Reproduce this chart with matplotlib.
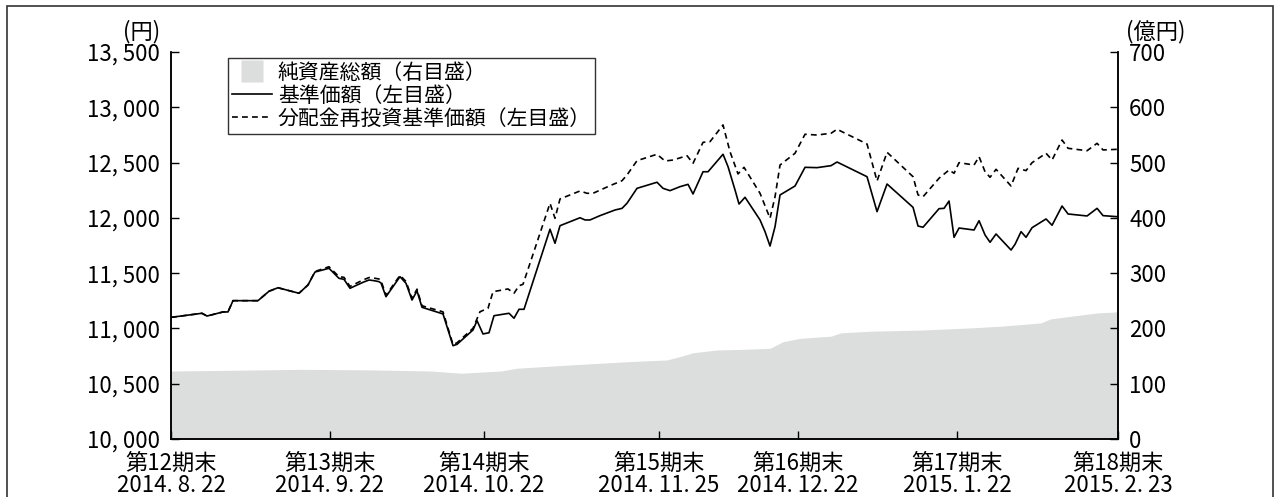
import matplotlib.pyplot as plt
from matplotlib.patches import Rectangle
from matplotlib.lines import Line2D

plt.rcParams['font.family'] = ['Liberation Sans Narrow', 'Noto Sans CJK JP', 'DejaVu Sans']

# position along the period axis (0 = 2014.8.22, 947 = 2015.2.23)
nav_x = [0, 31, 36, 52, 57, 62, 87, 98, 107, 128, 137, 144, 158, 168, 173, 179,
         192, 198, 203, 208, 210, 215, 229, 235, 241, 246, 251, 272, 282, 286,
         302, 306, 312, 318, 323, 338, 343, 348, 353, 379, 384, 389, 409, 414,
         419, 429, 444, 451, 456, 466, 486, 492, 499, 509, 517, 522, 532, 537,
         552, 557, 564, 568, 574, 589, 594, 599, 604, 609, 624, 634, 646, 660,
         666, 696, 706, 716, 742, 747, 752, 768, 773, 778, 783, 788, 803, 808,
         814, 819, 825, 840, 844, 850, 855, 861, 875, 881, 891, 897, 916, 926,
         932, 947]
nav = [11100, 11137, 11112, 11149, 11149, 11251, 11251, 11336, 11368, 11318,
       11393, 11510, 11544, 11453, 11444, 11363, 11417, 11438, 11432, 11423,
       11411, 11287, 11468, 11408, 11257, 11339, 11191, 11131, 10844, 10856,
       10986, 11070, 10950, 10961, 11115, 11137, 11092, 11173, 11173, 11897,
       11770, 11929, 12001, 11981, 11981, 12020, 12071, 12086, 12132, 12267,
       12322, 12267, 12246, 12282, 12303, 12216, 12417, 12417, 12575, 12463,
       12252, 12125, 12186, 11981, 11875, 11745, 11920, 12207, 12288, 12457,
       12454, 12472, 12505, 12372, 12056, 12306, 12095, 11926, 11915, 12083,
       12086, 12152, 11824, 11908, 11890, 11974, 11845, 11779, 11854, 11709,
       11761, 11875, 11824, 11911, 11990, 11933, 12107, 12035, 12017, 12086,
       12020, 12010]

reinv_x = [0, 31, 36, 52, 57, 62, 87, 98, 107, 128, 137, 144, 158, 168, 173,
           179, 192, 198, 203, 208, 210, 215, 229, 235, 241, 246, 251, 272, 282,
           286, 302, 309, 317, 322, 337, 343, 348, 352, 379, 384, 389, 409, 416,
           422, 439, 451, 456, 466, 486, 494, 502, 516, 522, 532, 539, 552, 559,
           567, 573, 589, 599, 604, 609, 624, 634, 646, 660, 666, 696, 706, 716,
           742, 747, 752, 768, 778, 783, 788, 803, 808, 814, 819, 825, 840, 847,
           855, 861, 875, 881, 891, 897, 916, 926, 932, 947]
reinv = [11100, 11137, 11112, 11149, 11149, 11251, 11251, 11336, 11368, 11318,
         11393, 11515, 11558, 11468, 11462, 11380, 11438, 11460, 11455, 11447,
         11432, 11300, 11480, 11425, 11272, 11355, 11205, 11150, 10855, 10870,
         11001, 11151, 11182, 11332, 11357, 11318, 11386, 11399, 12132, 11996,
         12171, 12243, 12222, 12222, 12291, 12336, 12388, 12517, 12575, 12514,
         12523, 12562, 12493, 12683, 12689, 12840, 12598, 12397, 12457, 12222,
         11996, 12191, 12478, 12584, 12756, 12749, 12765, 12801, 12668, 12333,
         12593, 12372, 12207, 12191, 12358, 12433, 12403, 12499, 12478, 12553,
         12417, 12367, 12439, 12288, 12448, 12427, 12499, 12584, 12523, 12704,
         12629, 12607, 12674, 12614, 12620]

# 純資産総額（億円）
assets_x = [0, 50, 130, 200, 260, 290, 330, 346, 400, 459, 496, 509, 522, 546,
            569, 599, 612, 629, 660, 670, 700, 750, 800, 830, 870, 879, 887,
            926, 947]
assets = [123, 124, 126, 125, 123, 119, 123, 128, 134, 140, 143, 149, 156, 161,
          162, 164, 176, 182, 186, 192, 195, 197, 201, 204, 210, 217, 219,
          228, 230]

period_pos = [0, 159, 313, 488, 627, 786, 947]
period_labels = ['第12期末\n2014. 8. 22', '第13期末\n2014. 9. 22',
                 '第14期末\n2014. 10. 22', '第15期末\n2014. 11. 25',
                 '第16期末\n2014. 12. 22', '第17期末\n2015. 1. 22',
                 '第18期末\n2015. 2. 23']
left_ticks = [10000, 10500, 11000, 11500, 12000, 12500, 13000, 13500]
left_labels = ['10, 000', '10, 500', '11, 000', '11, 500', '12, 000',
               '12, 500', '13, 000', '13, 500']
right_ticks = [0, 100, 200, 300, 400, 500, 600, 700]

fig = plt.figure(figsize=(12.74, 4.97), dpi=100)
ax = fig.add_axes([0.1342, 0.1167, 0.7434, 0.7787])
ax2 = ax.twinx()

fill_color = '#dcdddd'
ax2.fill_between(assets_x, 0, assets, color=fill_color, lw=0)
ax2.set_ylim(0, 700)
ax2.set_yticks(right_ticks)

dash = (0, (3.5, 2.5))
ax.plot(nav_x, nav, color='black', lw=1.2)
ax.plot(reinv_x, reinv, color='black', lw=1.2, ls=dash)
ax.set_ylim(10000, 13500)
ax.set_xlim(0, 947)
ax.set_yticks(left_ticks)
ax.set_yticklabels(left_labels)
ax.set_xticks(period_pos)
ax.set_xticklabels(period_labels, linespacing=0.95)

# lines above the shaded area
ax.set_zorder(ax2.get_zorder() + 1)
ax.patch.set_visible(False)

for a in (ax, ax2):
    a.spines['top'].set_visible(False)
    for s in a.spines.values():
        s.set_linewidth(1.1)
ax.tick_params(axis='both', direction='in', length=6, width=1.0,
               labelsize=16, colors='black')
ax.tick_params(axis='x', pad=9.5)
ax.tick_params(axis='y', pad=8)
ax2.tick_params(axis='y', direction='in', length=6, width=1.0,
                labelsize=16, pad=8)

fig.text(0.126, 0.912, '(円)', fontsize=16, ha='right', va='bottom')
fig.text(0.884, 0.912, '(億円)', fontsize=16, ha='left', va='bottom')

handles = [Line2D([], [], marker='s', markersize=16, ls='none',
                  markerfacecolor=fill_color, markeredgecolor='none'),
           Line2D([], [], color='black', lw=1.2),
           Line2D([], [], color='black', lw=1.2, ls=dash)]
labels = ['純資産総額（右目盛）', '基準価額（左目盛）', '分配金再投資基準価額（左目盛）']
leg = ax.legend(handles, labels, loc='upper left', bbox_to_anchor=(0.06, 0.985),
                prop={'family': ['Noto Sans CJK JP'], 'size': 15},
                frameon=True, fancybox=False, handlelength=1.9,
                handleheight=1.0, handletextpad=0.3, labelspacing=0.05,
                borderpad=0.2, borderaxespad=0)
leg.get_frame().set_edgecolor('black')
leg.get_frame().set_linewidth(1.0)

# outer frame
fig.patches.append(Rectangle((7 / 1274, -0.01), 1266 / 1274, 1 - 6 / 497 + 0.01,
                             transform=fig.transFigure, fill=False,
                             edgecolor='#333333', lw=1.2))

fig.savefig('out.png', dpi=100)
